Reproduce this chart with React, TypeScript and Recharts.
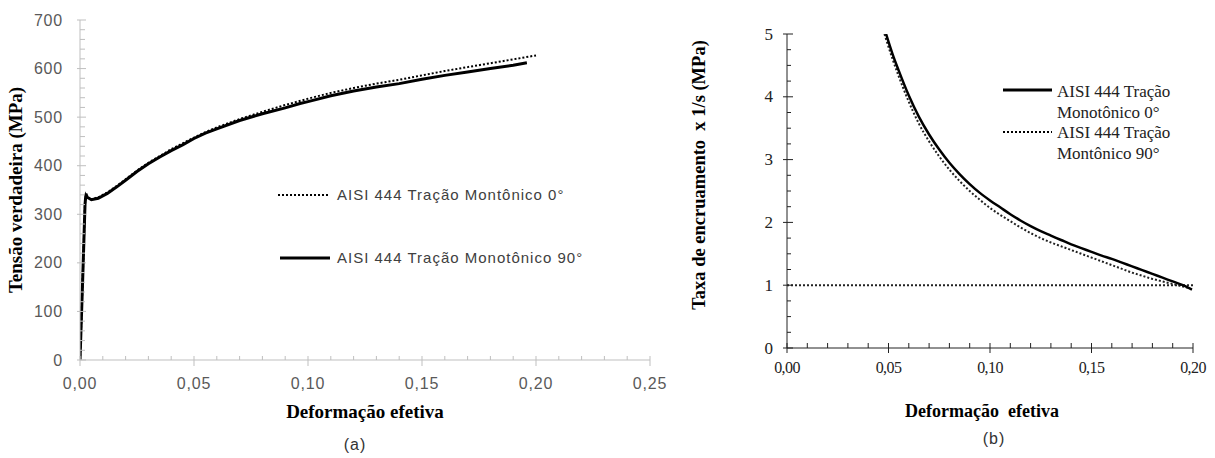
import React from 'react';
import { LineChart, Line, XAxis, YAxis } from 'recharts';

// ---------- Chart (a): true stress vs effective strain ----------
const strainA0 = [0, 0.0012, 0.0022, 0.0026, 0.0032, 0.005, 0.008, 0.012, 0.016, 0.02, 0.025, 0.03, 0.035, 0.04, 0.045, 0.05, 0.055, 0.06, 0.07, 0.08, 0.09, 0.1, 0.11, 0.12, 0.13, 0.14, 0.15, 0.16, 0.17, 0.18, 0.19, 0.2];
const stressA0 = [0, 170, 322, 340, 334, 331, 335, 345, 358, 372, 390, 406, 420, 434, 446, 458, 469, 479, 496, 511, 525, 538, 550, 560, 569, 577, 586, 595, 603, 611, 619, 627];
const strainA90 = [0, 0.0012, 0.0022, 0.0026, 0.0032, 0.005, 0.008, 0.012, 0.016, 0.02, 0.025, 0.03, 0.035, 0.04, 0.045, 0.05, 0.055, 0.06, 0.07, 0.08, 0.09, 0.0965, 0.1, 0.11, 0.12, 0.13, 0.14, 0.15, 0.16, 0.17, 0.18, 0.19, 0.196];
const stressA90 = [0, 170, 320, 342, 335, 330, 333, 343, 356, 370, 388, 404, 418, 431, 443, 456, 467, 476, 493, 507, 519, 528, 532, 544, 554, 562, 569, 578, 586, 593, 600, 607, 612];

const xMajorA = [0, 0.05, 0.1, 0.15, 0.2, 0.25];
const yMajorA = [0, 100, 200, 300, 400, 500, 600, 700];
const xMinorStepA = 0.01;
const yMinorStepA = 20;

const legendA = ['AISI 444 Tração Montônico 0°', 'AISI 444 Tração Monotônico 90°'];

// ---------- Chart (b): hardening rate vs effective strain ----------
const strainB0 = [0.0488, 0.052, 0.055, 0.06, 0.065, 0.07, 0.075, 0.08, 0.085, 0.09, 0.095, 0.1, 0.105, 0.11, 0.115, 0.12, 0.125, 0.13, 0.135, 0.14, 0.145, 0.15, 0.155, 0.16, 0.165, 0.17, 0.175, 0.18, 0.185, 0.19, 0.195, 0.1995];
const rateB0 = [5.0, 4.68, 4.42, 4.02, 3.68, 3.4, 3.16, 2.95, 2.77, 2.61, 2.47, 2.35, 2.24, 2.13, 2.03, 1.94, 1.86, 1.79, 1.72, 1.65, 1.59, 1.53, 1.47, 1.42, 1.36, 1.3, 1.24, 1.18, 1.12, 1.06, 1.0, 0.93];
const strainB90 = [0.048, 0.052, 0.055, 0.06, 0.065, 0.07, 0.075, 0.08, 0.085, 0.09, 0.095, 0.1, 0.105, 0.11, 0.115, 0.12, 0.125, 0.13, 0.135, 0.14, 0.145, 0.15, 0.155, 0.16, 0.165, 0.17, 0.175, 0.18, 0.185, 0.19, 0.195, 0.1985];
const rateB90 = [5.0, 4.6, 4.33, 3.92, 3.57, 3.29, 3.05, 2.84, 2.66, 2.5, 2.36, 2.23, 2.12, 2.02, 1.92, 1.83, 1.75, 1.68, 1.62, 1.56, 1.5, 1.44, 1.38, 1.32, 1.26, 1.2, 1.15, 1.1, 1.06, 1.02, 0.98, 0.95];
const refStrainB = [0, 0.2];
const refRateB = [1, 1];

const xMajorB = [0, 0.05, 0.1, 0.15, 0.2];
const yMajorB = [0, 1, 2, 3, 4, 5];
const xMinorStepB = 0.01;
const yMinorStepB = 0.25;

const legendB = [['AISI 444 Tração', 'Monotônico 0°'], ['AISI 444 Tração', 'Montônico 90°']];

// ---------- helpers ----------
const pairs = (xs: number[], ys: number[]) => xs.map((x, i) => ({ x, y: ys[i] }));
const withMinor = (majors: number[], step: number) => {
  const out: number[] = [];
  const a = majors[0];
  const b = majors[majors.length - 1];
  const n = Math.round((b - a) / step);
  for (let i = 0; i <= n; i++) out.push(Math.round((a + i * step) * 1e6) / 1e6);
  return out;
};
const isMajor = (v: number, majors: number[]) => majors.some((m) => Math.abs(m - v) < 1e-7);
const fmtX = (v: number) => v.toFixed(2).replace('.', ',');

type TickOpts = {
  majors: number[];
  stroke: string;
  majorIn: number;
  majorOut: number;
  minorIn: number;
  labelOff: number;
  font: string;
  size: number;
  fill: string;
  spacing: number;
  fmt: (v: number) => string;
};

const makeXTick = (o: TickOpts) => (props: any) => {
  const { x, y, payload } = props;
  const v = payload.value;
  const major = isMajor(v, o.majors);
  return (
    <g>
      <line x1={x} x2={x} y1={y - (major ? o.majorIn : o.minorIn)} y2={y + (major ? o.majorOut : 0)} stroke={o.stroke} strokeWidth={1} />
      {major && (
        <text x={x} y={y + o.labelOff} textAnchor="middle" dominantBaseline="central" fontFamily={o.font} fontSize={o.size} fill={o.fill} style={{ letterSpacing: o.spacing }}>
          {o.fmt(v)}
        </text>
      )}
    </g>
  );
};

const makeYTick = (o: TickOpts) => (props: any) => {
  const { x, y, payload } = props;
  const v = payload.value;
  const major = isMajor(v, o.majors);
  return (
    <g>
      <line x1={x - (major ? o.majorOut : 0)} x2={x + (major ? o.majorIn : o.minorIn)} y1={y} y2={y} stroke={o.stroke} strokeWidth={1} />
      {major && (
        <text x={x - o.labelOff} y={y} textAnchor="end" dominantBaseline="central" fontFamily={o.font} fontSize={o.size} fill={o.fill} style={{ letterSpacing: o.spacing }}>
          {o.fmt(v)}
        </text>
      )}
    </g>
  );
};

const SANS = '"Liberation Sans", Arial, sans-serif';
const SERIF = '"Liberation Serif", "Times New Roman", serif';

const xTickA = makeXTick({ majors: xMajorA, stroke: '#bfbfbf', majorIn: 4, majorOut: 6, minorIn: 4, labelOff: 23, font: SANS, size: 16, fill: '#595959', spacing: 0.8, fmt: fmtX });
const yTickA = makeYTick({ majors: yMajorA, stroke: '#bfbfbf', majorIn: 6, majorOut: 3, minorIn: 5, labelOff: 17, font: SANS, size: 16, fill: '#595959', spacing: 0.8, fmt: (v) => String(v) });
const xTickB = makeXTick({ majors: xMajorB, stroke: '#222', majorIn: 5, majorOut: 5, minorIn: 5, labelOff: 19, font: SERIF, size: 16, fill: '#222', spacing: -0.6, fmt: fmtX });
const yTickB = makeYTick({ majors: yMajorB, stroke: '#222', majorIn: 6, majorOut: 4, minorIn: 4, labelOff: 14, font: SERIF, size: 17, fill: '#222', spacing: 0, fmt: (v) => String(v) });

const abs = (s: React.CSSProperties): React.CSSProperties => ({ position: 'absolute', whiteSpace: 'pre', ...s });

const LineSample = ({ dotted, left, top, width }: { dotted: boolean; left: number; top: number; width: number }) => (
  <svg style={{ position: 'absolute', left, top: top - 3 }} width={width} height={6}>
    <line x1={0} x2={width} y1={3} y2={3} stroke="#000" strokeWidth={dotted ? 2 : 3} strokeDasharray={dotted ? '2 2' : undefined} />
  </svg>
);

export default function App() {
  return (
    <div style={{ position: 'absolute', left: 0, top: 0, width: 1215, height: 458, background: '#fff', overflow: 'hidden' }}>
      {/* Chart (a) */}
      <div style={{ position: 'absolute', left: 0, top: 0 }}>
        <LineChart width={700} height={400} margin={{ top: 20, right: 50, bottom: 10, left: 20 }}>
          <XAxis type="number" dataKey="x" domain={[0, 0.25]} ticks={withMinor(xMajorA, xMinorStepA)} interval={0} tickSize={0} tickMargin={0} tick={xTickA} tickLine={false} axisLine={{ stroke: '#bfbfbf' }} height={30} allowDataOverflow />
          <YAxis type="number" domain={[0, 700]} ticks={withMinor(yMajorA, yMinorStepA)} interval={0} tickSize={0} tickMargin={0} tick={yTickA} tickLine={false} axisLine={{ stroke: '#bfbfbf' }} width={60} allowDataOverflow />
          <Line data={pairs(strainA0, stressA0)} dataKey="y" type="linear" stroke="#000" strokeWidth={2} strokeDasharray="2 2" dot={false} isAnimationActive={false} />
          <Line data={pairs(strainA90, stressA90)} dataKey="y" type="linear" stroke="#000" strokeWidth={3} dot={false} isAnimationActive={false} />
        </LineChart>
      </div>

      {/* Chart (b) */}
      <div style={{ position: 'absolute', left: 700, top: 0 }}>
        <LineChart width={515} height={400} margin={{ top: 34, right: 22, bottom: 22, left: 27 }}>
          <XAxis type="number" dataKey="x" domain={[0, 0.2]} ticks={withMinor(xMajorB, xMinorStepB)} interval={0} tickSize={0} tickMargin={0} tick={xTickB} tickLine={false} axisLine={{ stroke: '#222' }} height={30} allowDataOverflow />
          <YAxis type="number" domain={[0, 5]} ticks={withMinor(yMajorB, yMinorStepB)} interval={0} tickSize={0} tickMargin={0} tick={yTickB} tickLine={false} axisLine={{ stroke: '#222' }} width={60} allowDataOverflow />
          <Line data={pairs(refStrainB, refRateB)} dataKey="y" type="linear" stroke="#222" strokeWidth={2} strokeDasharray="2 2" dot={false} isAnimationActive={false} />
          <Line data={pairs(strainB90, rateB90)} dataKey="y" type="monotone" stroke="#222" strokeWidth={2} strokeDasharray="2 2" dot={false} isAnimationActive={false} />
          <Line data={pairs(strainB0, rateB0)} dataKey="y" type="monotone" stroke="#000" strokeWidth={2.5} dot={false} isAnimationActive={false} />
        </LineChart>
      </div>

      {/* Titles (a) */}
      <div style={abs({ left: 16, top: 190, transform: 'translate(-50%, -50%) rotate(-90deg)', fontFamily: SERIF, fontWeight: 'bold', fontSize: 19, color: '#000', lineHeight: '22px' })}>Tensão verdadeira (MPa)</div>
      <div style={abs({ left: 365, top: 412, transform: 'translate(-50%, -50%)', fontFamily: SERIF, fontWeight: 'bold', fontSize: 19, color: '#000', lineHeight: '22px' })}>Deformação efetiva</div>
      <div style={abs({ left: 355, top: 445, transform: 'translate(-50%, -50%)', fontFamily: SANS, fontSize: 16, color: '#333', lineHeight: '18px', letterSpacing: 1 })}>(a)</div>

      {/* Legend (a) */}
      <LineSample dotted left={278} top={195} width={50} />
      <div style={abs({ left: 337, top: 195, transform: 'translateY(-50%)', fontFamily: SANS, fontSize: 15, color: '#404040', lineHeight: '18px', letterSpacing: 1 })}>{legendA[0]}</div>
      <LineSample dotted={false} left={280} top={258} width={50} />
      <div style={abs({ left: 337, top: 258, transform: 'translateY(-50%)', fontFamily: SANS, fontSize: 15, color: '#404040', lineHeight: '18px', letterSpacing: 1 })}>{legendA[1]}</div>

      {/* Titles (b) */}
      <div style={abs({ left: 699, top: 175, transform: 'translate(-50%, -50%) rotate(-90deg)', fontFamily: SERIF, fontWeight: 'bold', fontSize: 18.5, color: '#000', lineHeight: '22px' })}>{'Taxa de encruamento  x 1/s (MPa)'}</div>
      <div style={abs({ left: 982, top: 411, transform: 'translate(-50%, -50%)', fontFamily: SERIF, fontWeight: 'bold', fontSize: 18, color: '#000', lineHeight: '22px' })}>{'Deformação  efetiva'}</div>
      <div style={abs({ left: 994, top: 439, transform: 'translate(-50%, -50%)', fontFamily: SANS, fontSize: 16, color: '#333', lineHeight: '18px', letterSpacing: 1 })}>(b)</div>

      {/* Legend (b) */}
      <LineSample dotted={false} left={1003} top={90} width={49} />
      <div style={abs({ left: 1057, top: 81, fontFamily: SERIF, fontSize: 17, color: '#222', lineHeight: '21px' })}>{legendB[0][0] + '\n' + legendB[0][1]}</div>
      <LineSample dotted left={1003} top={132} width={49} />
      <div style={abs({ left: 1057, top: 122, fontFamily: SERIF, fontSize: 17, color: '#222', lineHeight: '21px' })}>{legendB[1][0] + '\n' + legendB[1][1]}</div>
    </div>
  );
}
